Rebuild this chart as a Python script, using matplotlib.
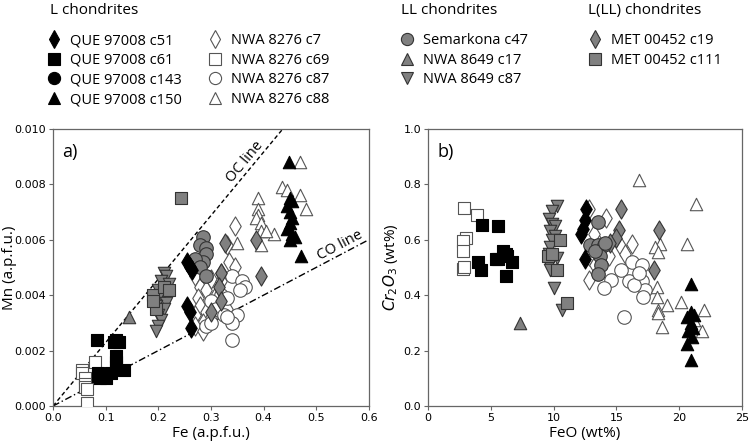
import numpy as np
import matplotlib
matplotlib.use("Agg")
import matplotlib.pyplot as plt
from matplotlib.lines import Line2D

LBL_FONT = ["Open Sans", "DejaVu Sans"]

# ---- panel a: Fe vs Mn (a.p.f.u.) ----
a_que_c51_fe = [0.255, 0.26, 0.265, 0.255, 0.26, 0.262]
a_que_c51_mn = [0.0052, 0.0050, 0.0049, 0.0036, 0.0034, 0.0028]
a_que_c61_fe = [0.083, 0.115, 0.12, 0.125, 0.12, 0.12, 0.09, 0.085, 0.11, 0.12, 0.135, 0.085, 0.10]
a_que_c61_mn = [0.0024, 0.0023, 0.0024, 0.0023, 0.0018, 0.0016, 0.0010, 0.0012, 0.0012, 0.0014, 0.0013, 0.0011, 0.0010]
a_que_c143_fe = []
a_que_c143_mn = []
a_que_c150_fe = [0.448, 0.45, 0.455, 0.445, 0.45, 0.455, 0.45, 0.445, 0.455, 0.45, 0.46, 0.472]
a_que_c150_mn = [0.0088, 0.0075, 0.0074, 0.0072, 0.0070, 0.0068, 0.0066, 0.0064, 0.0062, 0.0060, 0.0061, 0.0054]
a_nwa_c7_fe = [0.345, 0.33, 0.335, 0.345, 0.32, 0.30, 0.27, 0.28, 0.29, 0.31, 0.275, 0.28, 0.29, 0.27, 0.30, 0.285, 0.27, 0.285, 0.32, 0.33]
a_nwa_c7_mn = [0.0065, 0.0058, 0.0052, 0.0050, 0.0048, 0.0046, 0.0047, 0.0043, 0.0042, 0.0040, 0.0039, 0.0036, 0.0034, 0.0033, 0.0032, 0.0030, 0.0029, 0.0027, 0.0045, 0.0035]
a_nwa_c69_fe = [0.08, 0.055, 0.055, 0.06, 0.06, 0.06, 0.065, 0.065]
a_nwa_c69_mn = [0.0016, 0.0013, 0.0012, 0.0010, 0.0008, 0.0007, 0.0006, 0.0001]
a_nwa_c87_fe = [0.34, 0.36, 0.365, 0.355, 0.32, 0.33, 0.30, 0.31, 0.325, 0.35, 0.29, 0.30, 0.34, 0.33, 0.34]
a_nwa_c87_mn = [0.0047, 0.0045, 0.0043, 0.0042, 0.0040, 0.0039, 0.0038, 0.0035, 0.0033, 0.0033, 0.0029, 0.0030, 0.0030, 0.0032, 0.0024]
a_nwa_c88_fe = [0.47, 0.435, 0.445, 0.47, 0.48, 0.39, 0.39, 0.39, 0.385, 0.395, 0.395, 0.42, 0.405, 0.35, 0.395]
a_nwa_c88_mn = [0.0088, 0.0079, 0.0078, 0.0076, 0.0071, 0.0075, 0.0071, 0.0069, 0.0068, 0.0066, 0.0063, 0.0062, 0.0063, 0.0059, 0.0058]
a_sem_c47_fe = [0.285, 0.28, 0.29, 0.29, 0.285, 0.27, 0.28, 0.29]
a_sem_c47_mn = [0.0061, 0.0058, 0.0057, 0.0055, 0.0052, 0.0053, 0.0050, 0.0047]
a_nwa8649_c17_fe = [0.145]
a_nwa8649_c17_mn = [0.0032]
a_nwa8649_c87_fe = [0.21, 0.215, 0.205, 0.22, 0.20, 0.21, 0.20, 0.215, 0.195, 0.21, 0.20, 0.205, 0.20, 0.195]
a_nwa8649_c87_mn = [0.0048, 0.0047, 0.0045, 0.0044, 0.0042, 0.0041, 0.0039, 0.0037, 0.0036, 0.0035, 0.0033, 0.0031, 0.0029, 0.0027]
a_met_c19_fe = [0.326, 0.386, 0.32, 0.316, 0.32, 0.30, 0.396]
a_met_c19_mn = [0.0059, 0.0060, 0.0048, 0.0043, 0.0038, 0.0034, 0.0047]
a_met_c111_fe = [0.243, 0.19, 0.195, 0.21, 0.22, 0.19]
a_met_c111_mn = [0.0075, 0.0040, 0.0035, 0.0043, 0.0042, 0.0038]

oc_slope = 0.0229
co_slope = 0.0100

# ---- panel b: FeO vs Cr2O3 (wt%) ----
b_que_c51_feo = [12.6, 12.5, 12.3, 12.2, 12.5]
b_que_c51_cr = [0.71, 0.67, 0.64, 0.62, 0.53]
b_que_c61_feo = [4.3, 5.6, 4.0, 4.2, 5.6, 6.0, 6.7, 6.2, 5.4, 6.3, 6.2]
b_que_c61_cr = [0.653, 0.65, 0.52, 0.49, 0.53, 0.56, 0.52, 0.47, 0.53, 0.54, 0.55]
b_que_c143_feo = []
b_que_c143_cr = []
b_que_c150_feo = [20.9, 20.9, 20.6, 20.9, 20.7, 21.0, 20.6, 20.9, 21.2, 21.1]
b_que_c150_cr = [0.44, 0.34, 0.32, 0.30, 0.27, 0.25, 0.225, 0.165, 0.33, 0.28]
b_nwa_c7_feo = [12.8, 14.2, 12.8, 12.8, 15.4, 16.2, 13.5, 14.4, 15.7, 13.3, 13.2]
b_nwa_c7_cr = [0.71, 0.68, 0.54, 0.455, 0.575, 0.585, 0.59, 0.54, 0.55, 0.51, 0.62]
b_nwa_c69_feo = [2.9, 3.9, 3.0, 2.8, 2.8, 2.8, 2.9]
b_nwa_c69_cr = [0.713, 0.69, 0.605, 0.595, 0.56, 0.495, 0.50]
b_nwa_c87_feo = [16.2, 17.0, 15.4, 14.6, 14.0, 16.0, 17.0, 17.3, 17.1, 16.4, 15.6, 16.8]
b_nwa_c87_cr = [0.52, 0.51, 0.49, 0.455, 0.425, 0.45, 0.45, 0.42, 0.395, 0.435, 0.32, 0.48]
b_nwa_c88_feo = [16.8, 21.3, 20.6, 18.5, 18.1, 18.3, 18.2, 18.2, 19.0, 20.1, 18.3, 18.3, 18.6, 22.0, 21.8, 21.2]
b_nwa_c88_cr = [0.815, 0.73, 0.585, 0.585, 0.575, 0.555, 0.43, 0.395, 0.365, 0.375, 0.345, 0.335, 0.285, 0.345, 0.27, 0.31]
b_sem_c47_feo = [13.5, 12.9, 13.5, 14.0, 13.7, 13.8, 13.5, 13.3, 14.1]
b_sem_c47_cr = [0.665, 0.58, 0.58, 0.58, 0.54, 0.51, 0.475, 0.56, 0.59]
b_nwa8649_c17_feo = [7.35]
b_nwa8649_c17_cr = [0.30]
b_nwa8649_c87_feo = [10.3, 9.9, 9.6, 9.9, 10.1, 9.7, 10.1, 9.9, 9.7, 9.6, 9.9, 9.6, 9.7, 10.0, 10.7, 10.3]
b_nwa8649_c87_cr = [0.72, 0.705, 0.675, 0.655, 0.65, 0.63, 0.615, 0.60, 0.575, 0.55, 0.535, 0.51, 0.49, 0.425, 0.345, 0.535]
b_met_c19_feo = [15.4, 15.2, 15.0, 14.5, 18.4, 18.0]
b_met_c19_cr = [0.71, 0.635, 0.605, 0.59, 0.635, 0.49]
b_met_c111_feo = [9.55, 10.3, 10.5, 11.1, 9.9]
b_met_c111_cr = [0.54, 0.49, 0.60, 0.37, 0.55]

labels = ["QUE 97008 c51", "QUE 97008 c61", "QUE 97008 c143", "QUE 97008 c150",
          "NWA 8276 c7", "NWA 8276 c69", "NWA 8276 c87", "NWA 8276 c88",
          "Semarkona c47", "NWA 8649 c17", "NWA 8649 c87",
          "MET 00452 c19", "MET 00452 c111"]
group_titles = ["L chondrites", "LL chondrites", "L(LL) chondrites"]

BLK = dict(facecolor="black", edgecolor="black")
OPN = dict(facecolor="white", edgecolor="#555555")
GRY = dict(facecolor="#808080", edgecolor="#333333")
styles = [("d", BLK, 95), ("s", BLK, 85), ("o", BLK, 95), ("^", BLK, 80),
          ("d", OPN, 95), ("s", OPN, 85), ("o", OPN, 95), ("^", OPN, 80),
          ("o", GRY, 95), ("^", GRY, 80), ("v", GRY, 80),
          ("d", GRY, 95), ("s", GRY, 85)]

a_sets = [(a_que_c51_fe, a_que_c51_mn), (a_que_c61_fe, a_que_c61_mn), (a_que_c143_fe, a_que_c143_mn),
          (a_que_c150_fe, a_que_c150_mn), (a_nwa_c7_fe, a_nwa_c7_mn), (a_nwa_c69_fe, a_nwa_c69_mn),
          (a_nwa_c87_fe, a_nwa_c87_mn), (a_nwa_c88_fe, a_nwa_c88_mn), (a_sem_c47_fe, a_sem_c47_mn),
          (a_nwa8649_c17_fe, a_nwa8649_c17_mn), (a_nwa8649_c87_fe, a_nwa8649_c87_mn),
          (a_met_c19_fe, a_met_c19_mn), (a_met_c111_fe, a_met_c111_mn)]
b_sets = [(b_que_c51_feo, b_que_c51_cr), (b_que_c61_feo, b_que_c61_cr), (b_que_c143_feo, b_que_c143_cr),
          (b_que_c150_feo, b_que_c150_cr), (b_nwa_c7_feo, b_nwa_c7_cr), (b_nwa_c69_feo, b_nwa_c69_cr),
          (b_nwa_c87_feo, b_nwa_c87_cr), (b_nwa_c88_feo, b_nwa_c88_cr), (b_sem_c47_feo, b_sem_c47_cr),
          (b_nwa8649_c17_feo, b_nwa8649_c17_cr), (b_nwa8649_c87_feo, b_nwa8649_c87_cr),
          (b_met_c19_feo, b_met_c19_cr), (b_met_c111_feo, b_met_c111_cr)]

# draw order: open first, then gray, then black on top
order = [4, 5, 6, 7, 10, 9, 11, 12, 8, 1, 2, 3, 0]

fig = plt.figure(figsize=(7.5, 4.42), dpi=100)
ax_a = fig.add_axes([0.0707, 0.0814, 0.421, 0.627])
ax_b = fig.add_axes([0.5707, 0.0814, 0.4187, 0.627])

for ax, sets in ((ax_a, a_sets), (ax_b, b_sets)):
    for i in order:
        x, y = sets[i]
        if len(x) == 0:
            continue
        m, st, s = styles[i]
        ax.scatter(x, y, marker=m, s=s, linewidths=0.8, zorder=3, **st)
    for sp in ax.spines.values():
        sp.set_color("#666666")
        sp.set_linewidth(0.9)
    ax.tick_params(labelsize=8, length=3, width=0.8, color="#666666", pad=2)

# panel a
ax_a.set_xlim(0, 0.6)
ax_a.set_ylim(0, 0.010)
ax_a.set_xticks(np.arange(0, 0.61, 0.1))
ax_a.set_yticks(np.arange(0, 0.0101, 0.002))
ax_a.xaxis.set_major_formatter(matplotlib.ticker.FormatStrFormatter("%.1f"))
ax_a.yaxis.set_major_formatter(matplotlib.ticker.FormatStrFormatter("%.3f"))
xs = np.array([0, 0.6])
ax_a.plot(xs, oc_slope * xs, ls=(0, (3, 2)), color="black", lw=1.0, zorder=2)
ax_a.plot(xs, co_slope * xs, ls=(0, (5, 2, 1, 2)), color="black", lw=1.0, zorder=2)
ax_a.set_xlabel("Fe (a.p.f.u.)", family=LBL_FONT, fontsize=11, labelpad=2)
ax_a.set_ylabel("Mn (a.p.f.u.)", family=LBL_FONT, fontsize=11)
ax_a.yaxis.set_label_coords(-0.114, 0.5)
ax_a.text(0.03, 0.95, "a)", transform=ax_a.transAxes, family=LBL_FONT, fontsize=13, va="top")


def screen_angle(ax, slope):
    p1 = ax.transData.transform((0, 0))
    p2 = ax.transData.transform((0.4, 0.4 * slope))
    return np.degrees(np.arctan2(p2[1] - p1[1], p2[0] - p1[0]))


ax_a.text(0.365, 0.0088, "OC line", rotation=screen_angle(ax_a, oc_slope), family=LBL_FONT,
          fontsize=10.5, ha="center", va="center", rotation_mode="anchor")
ax_a.text(0.545, 0.0058, "CO line", rotation=screen_angle(ax_a, co_slope), family=LBL_FONT,
          fontsize=10.5, ha="center", va="center", rotation_mode="anchor")

# panel b
ax_b.set_xlim(0, 25)
ax_b.set_ylim(0, 1.0)
ax_b.set_xticks(np.arange(0, 26, 5))
ax_b.set_yticks(np.arange(0, 1.01, 0.2))
ax_b.yaxis.set_major_formatter(matplotlib.ticker.FormatStrFormatter("%.1f"))
ax_b.set_xlabel("FeO (wt%)", family=LBL_FONT, fontsize=11, labelpad=2)
ax_b.set_ylabel(r"$Cr_2O_3$ (wt%)", family=LBL_FONT, fontsize=11)
ax_b.yaxis.set_label_coords(-0.089, 0.5)
ax_b.text(0.03, 0.95, "b)", transform=ax_b.transAxes, family=LBL_FONT, fontsize=13, va="top")

# legends
handles = []
for m, st, s in styles:
    handles.append(Line2D([], [], ls="none", marker=m, markersize=np.sqrt(s) * 0.9,
                          markerfacecolor=st["facecolor"], markeredgecolor=st["edgecolor"],
                          markeredgewidth=0.8))

leg_kw = dict(frameon=False, loc="upper left", handletextpad=0.6,
              labelspacing=0.32, handlelength=1.0, borderpad=0, borderaxespad=0,
              prop={"family": LBL_FONT, "size": 10.5})
leg_y = 0.925
fig.legend(handles[0:8], labels[0:8], ncol=2, columnspacing=1.8,
           bbox_to_anchor=(0.062, leg_y), **leg_kw)
fig.legend(handles[8:11], labels[8:11], bbox_to_anchor=(0.533, leg_y), **leg_kw)
fig.legend(handles[11:13], labels[11:13], bbox_to_anchor=(0.783, leg_y), **leg_kw)
for tx, title in zip([0.066, 0.535, 0.784], group_titles):
    fig.text(tx, 0.977, title, family=LBL_FONT, fontsize=11, va="center", ha="left")

fig.savefig("out.png", dpi=100)
